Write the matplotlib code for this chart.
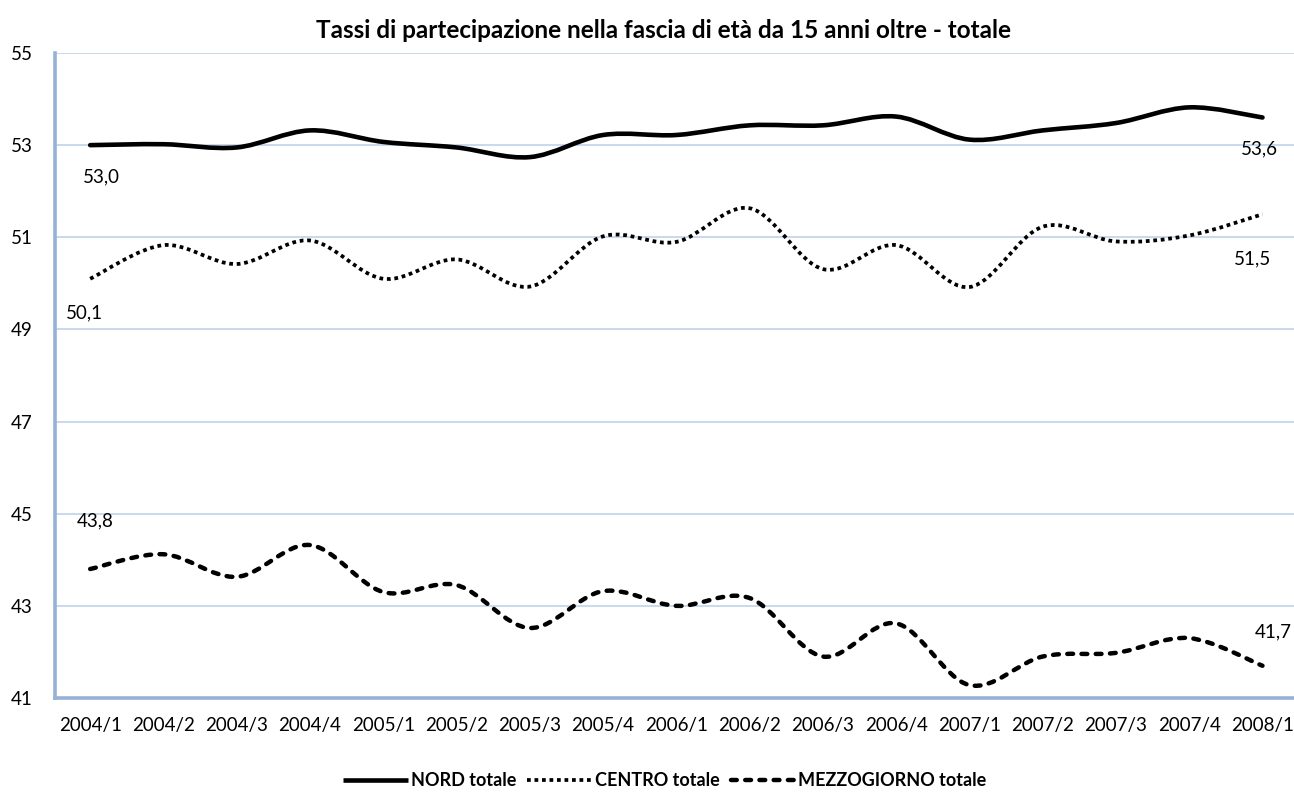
import matplotlib
matplotlib.use('Agg')
import matplotlib.pyplot as plt
from matplotlib.path import Path
from matplotlib.patches import PathPatch
from matplotlib.lines import Line2D
import numpy as np

plt.rcParams['font.family'] = ['Lato', 'DejaVu Sans']

periods = ['2004/1', '2004/2', '2004/3', '2004/4', '2005/1', '2005/2', '2005/3', '2005/4',
           '2006/1', '2006/2', '2006/3', '2006/4', '2007/1', '2007/2', '2007/3', '2007/4', '2008/1']

nord = [53.0, 53.02, 52.95, 53.32, 53.07, 52.95, 52.74, 53.22, 53.22,
        53.43, 53.43, 53.62, 53.12, 53.32, 53.48, 53.82, 53.6]
centro = [50.1, 50.83, 50.42, 50.93, 50.1, 50.52, 49.93, 51.02, 50.9,
          51.63, 50.31, 50.83, 49.92, 51.23, 50.91, 51.04, 51.5]
mezzo = [43.8, 44.12, 43.63, 44.32, 43.3, 43.45, 42.52, 43.32, 43.0,
         43.17, 41.9, 42.62, 41.28, 41.9, 41.98, 42.3, 41.7]

series_names = ['NORD totale', 'CENTRO totale', 'MEZZOGIORNO totale']


def smooth_path(xs, ys):
    # Excel-style smoothed line: cubic Bezier segments through the data points
    pts = np.column_stack([xs, ys]).astype(float)
    n = len(pts)
    verts = [tuple(pts[0])]
    codes = [Path.MOVETO]
    for i in range(n - 1):
        p0 = pts[max(i - 1, 0)]
        p1 = pts[i]
        p2 = pts[i + 1]
        p3 = pts[min(i + 2, n - 1)]
        c1 = p1 + (p2 - p0) / 6.0
        c2 = p2 - (p3 - p1) / 6.0
        verts += [tuple(c1), tuple(c2), tuple(p2)]
        codes += [Path.CURVE4] * 3
    return Path(verts, codes)


fig = plt.figure(figsize=(12.94, 7.96), dpi=100, facecolor='white')
ax = fig.add_axes([55 / 1294, 1 - 698 / 796, 1239 / 1294, (698 - 53) / 796])

x = np.arange(len(periods))

styles = [
    dict(linestyle='-', linewidth=3.3, capstyle='round'),
    dict(linestyle=(0, (1.0, 1.0)), linewidth=2.7, capstyle='butt'),
    dict(linestyle=(0, (1.3, 1.9)), linewidth=3.2, capstyle='round'),
]

for vals, st in zip([nord, centro, mezzo], styles):
    patch = PathPatch(smooth_path(x, vals), fill=False, edgecolor='black',
                      linewidth=st['linewidth'], linestyle=st['linestyle'],
                      capstyle=st['capstyle'], joinstyle='round', zorder=3)
    ax.add_patch(patch)

ax.set_xlim(-0.48, 16.43)
ax.set_ylim(41, 55)
ax.set_yticks(np.arange(41, 56, 2))
ax.set_xticks(x)
ax.set_xticklabels(periods)
ax.tick_params(axis='both', length=0, labelsize=13.5, colors='black')
ax.tick_params(axis='x', pad=14)
ax.tick_params(axis='y', pad=16)

ax.grid(axis='y', color='#C5D5EA', linewidth=1.3)
ax.set_axisbelow(True)
for s in ['top', 'right']:
    ax.spines[s].set_visible(False)
for s in ['left', 'bottom']:
    ax.spines[s].set_color('#95B3D7')
    ax.spines[s].set_linewidth(2.6)

# data labels at first and last points
label_specs = [
    (0, nord[0], (11, -32)),
    (16, nord[-1], (-3, -31)),
    (0, centro[0], (-6, -34)),
    (16, centro[-1], (-10, -45)),
    (0, mezzo[0], (5, 48)),
    (16, mezzo[-1], (11, 34)),
]
for xi, yv, off in label_specs:
    ax.annotate(f'{yv:.1f}'.replace('.', ','), (xi, yv), xytext=off,
                textcoords='offset pixels', ha='center', va='center',
                fontsize=13.5, annotation_clip=False)

fig.text(664 / 1294, 1 - 30 / 796,
         'Tassi di partecipazione nella fascia di età da 15 anni oltre - totale',
         ha='center', va='center', fontsize=17.5, fontweight='bold')

handles = [Line2D([], [], color='black', linestyle=st['linestyle'],
                  linewidth=st['linewidth'], dash_capstyle=st['capstyle'],
                  solid_capstyle='butt')
           for st in styles]
leg = fig.legend(handles, series_names, loc='center', ncol=3,
                 bbox_to_anchor=(665 / 1294, 1 - 781 / 796), frameon=False,
                 handlelength=3.6, handletextpad=0.15, columnspacing=0.6,
                 prop={'weight': 'bold', 'size': 13})

fig.savefig('out.png', dpi=100, facecolor='white')
